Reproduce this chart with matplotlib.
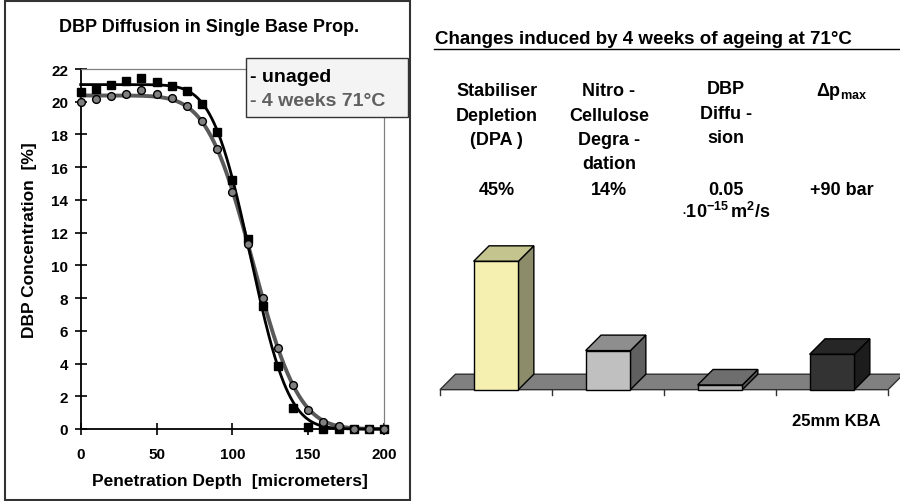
import math
import numpy as np
import matplotlib
matplotlib.use("Agg")
import matplotlib.pyplot as plt
from matplotlib.patches import Polygon, Rectangle
from matplotlib.lines import Line2D

plt.rcParams["font.family"] = ["Liberation Sans", "DejaVu Sans"]
plt.rcParams["font.weight"] = "bold"
plt.rcParams["mathtext.fontset"] = "custom"
plt.rcParams["mathtext.rm"] = "Liberation Sans"
plt.rcParams["mathtext.bf"] = "Liberation Sans:bold"
plt.rcParams["mathtext.it"] = "Liberation Sans:italic"

# --- left chart: DBP profile ---
depth = np.arange(0, 201, 10)
unaged = [20.61, 20.78, 21.02, 21.27, 21.47, 21.18, 20.98, 20.67, 19.84, 18.16, 15.2,
          11.6, 7.5, 3.85, 1.28, 0.1, 0.0, 0.0, 0.0, 0.0, 0.0]
aged = [19.96, 20.16, 20.33, 20.49, 20.73, 20.49, 20.24, 19.71, 18.82, 17.1, 14.5,
        11.3, 8.01, 4.97, 2.68, 1.18, 0.45, 0.16, 0.0, 0.0, 0.0]

# --- right chart: changes after ageing ---
columns = [["Stabiliser", "Depletion", "(DPA )"],
           ["Nitro -", "Cellulose", "Degra -", "dation"],
           ["DBP", "Diffu -", "sion"],
           [r"$\Delta\mathbf{p}_{\mathbf{max}}$"]]
values = ["45%", "14%", "0.05", "+90 bar"]
bar_heights = [45.0, 13.7, 1.65, 12.4]
bar_front = ["#F5F0B0", "#C0C0C0", "#B0B0B0", "#333333"]
bar_side = ["#8C8C6A", "#606060", "#555555", "#1C1C1C"]
bar_top = ["#C4C48F", "#8E8E8E", "#6E6E6E", "#262626"]

erfc = np.vectorize(math.erfc)


def fit_profile(x, y):
    # least squares fit of C0/2*erfc((x-x0)/w), grid search
    x = np.asarray(x, float)
    y = np.asarray(y, float)
    best = None
    for x0 in np.arange(90, 140, 0.5):
        for w in np.arange(5, 60, 0.5):
            f = 0.5 * erfc((x - x0) / w)
            c0 = f @ y / (f @ f)
            r = np.sum((c0 * f - y) ** 2)
            if best is None or r < best[0]:
                best = (r, c0, x0, w)
    return best[1:]


W, H = 900, 502


def fx(px):
    return px / W


def fy(py):
    return 1 - py / H


fig = plt.figure(figsize=(9, 5.02), dpi=100)

# frame around left chart
fig.add_artist(Rectangle((fx(5), fy(501)), fx(410) - fx(5), fy(2) - fy(501),
                         transform=fig.transFigure, fill=False,
                         edgecolor="#333333", lw=1.5))

ax = fig.add_axes([fx(80.7), fy(430), fx(384) - fx(80.7), fy(70) - fy(430)])
ax.set_xlim(0, 200)
ax.set_ylim(0, 22)
ax.set_xticks(np.arange(0, 201, 50))
ax.set_yticks(np.arange(0, 23, 2))
ax.tick_params(direction="inout", length=8, width=1.2, labelsize=11)
ax.tick_params(axis="x", pad=9)
ax.tick_params(axis="y", pad=5)
for s in ["left", "bottom"]:
    ax.spines[s].set_linewidth(1.3)
    ax.spines[s].set_color("black")
for s in ["top", "right"]:
    ax.spines[s].set_linewidth(0.9)
    ax.spines[s].set_color("#808080")

xs = np.linspace(0, 200, 401)
c0, x0, w = fit_profile(depth, aged)
ax.plot(xs, c0 * 0.5 * erfc((xs - x0) / w), color="#5A5A5A", lw=2.8, zorder=3, clip_on=False)
c0, x0, w = fit_profile(depth, unaged)
ax.plot(xs, c0 * 0.5 * erfc((xs - x0) / w), color="black", lw=2.0, zorder=4, clip_on=False)
ax.plot(depth, unaged, "s", color="black", ms=5.2, zorder=5, clip_on=False)
ax.plot(depth, aged, "o", color="#808080", mec="black", mew=1.0, ms=5.6, zorder=6, clip_on=False)

fig.text(fx(209), fy(27), "DBP Diffusion in Single Base Prop.", ha="center", va="center", fontsize=13)
fig.text(fx(30), fy(240), "DBP Concentration  [%]", ha="center", va="center",
         rotation=90, fontsize=12.5)
fig.text(fx(230), fy(482), "Penetration Depth  [micrometers]", ha="center", va="center", fontsize=12.5)

# legend box
fig.add_artist(Rectangle((fx(246), fy(118)), fx(408) - fx(246), fy(59) - fy(118),
                         transform=fig.transFigure, facecolor="#F4F4F4",
                         edgecolor="#333333", lw=1.0, zorder=10))
fig.text(fx(250), fy(77), "- unaged", ha="left", va="center", fontsize=14, zorder=11)
fig.text(fx(250), fy(102), "- 4 weeks 71\u00b0C", ha="left", va="center", fontsize=14,
         color="#606060", zorder=11)

# right panel text
fig.text(fx(435), fy(44.5), "Changes induced by 4 weeks of ageing at 71\u00b0C",
         ha="left", va="baseline", fontsize=13.5)
fig.add_artist(Line2D([fx(434), fx(900)], [fy(49.5), fy(49.5)], color="black", lw=1.0))

col_x = [496.7, 609, 726, 842]
col_base = [96.5, 96.5, 94.5, 96.5]
for i, lines in enumerate(columns):
    for j, t in enumerate(lines):
        fig.text(fx(col_x[i]), fy(col_base[i] + 24.3 * j), t, ha="center",
                 va="baseline", fontsize=13)
    fig.text(fx(col_x[i]), fy(195), values[i], ha="center", va="baseline", fontsize=13)
fig.text(fx(726), fy(217.5),
         r"$\cdot\mathbf{10}^{\mathbf{-15}}\,\mathbf{m}^{\mathbf{2}}\mathbf{/s}$",
         ha="center", va="baseline", fontsize=13)
fig.text(fx(836), fy(421), "25mm KBA", ha="center", va="center", fontsize=12)

# 3D bars
ax2 = fig.add_axes([fx(440), fy(419.2), fx(888) - fx(440), fy(248.05) - fy(419.2)])
ax2.set_xlim(0, 4)
ax2.set_ylim(-10, 50)
ax2.axis("off")
ddx, ddy = 0.138, 5.43
n = len(bar_heights)
ax2.add_patch(Polygon([(0, 0), (n, 0), (n + ddx, ddy), (ddx, ddy)], closed=True,
                      facecolor="#808080", edgecolor="#303030", lw=1.0, clip_on=False))
for i in range(n + 1):
    ax2.plot([i, i], [0, -1.75], color="#303030", lw=1.0, clip_on=False)
for i, h in enumerate(bar_heights):
    l, r = i + 0.3, i + 0.7
    ax2.add_patch(Polygon([(r, 0), (r + ddx, ddy), (r + ddx, h + ddy), (r, h)],
                          facecolor=bar_side[i], edgecolor="black", lw=1.0, clip_on=False))
    ax2.add_patch(Polygon([(l, h), (r, h), (r + ddx, h + ddy), (l + ddx, h + ddy)],
                          facecolor=bar_top[i], edgecolor="black", lw=1.0, clip_on=False))
    ax2.add_patch(Rectangle((l, 0), r - l, h, facecolor=bar_front[i],
                            edgecolor="black", lw=1.0, clip_on=False))

fig.savefig("out.png", dpi=100)
